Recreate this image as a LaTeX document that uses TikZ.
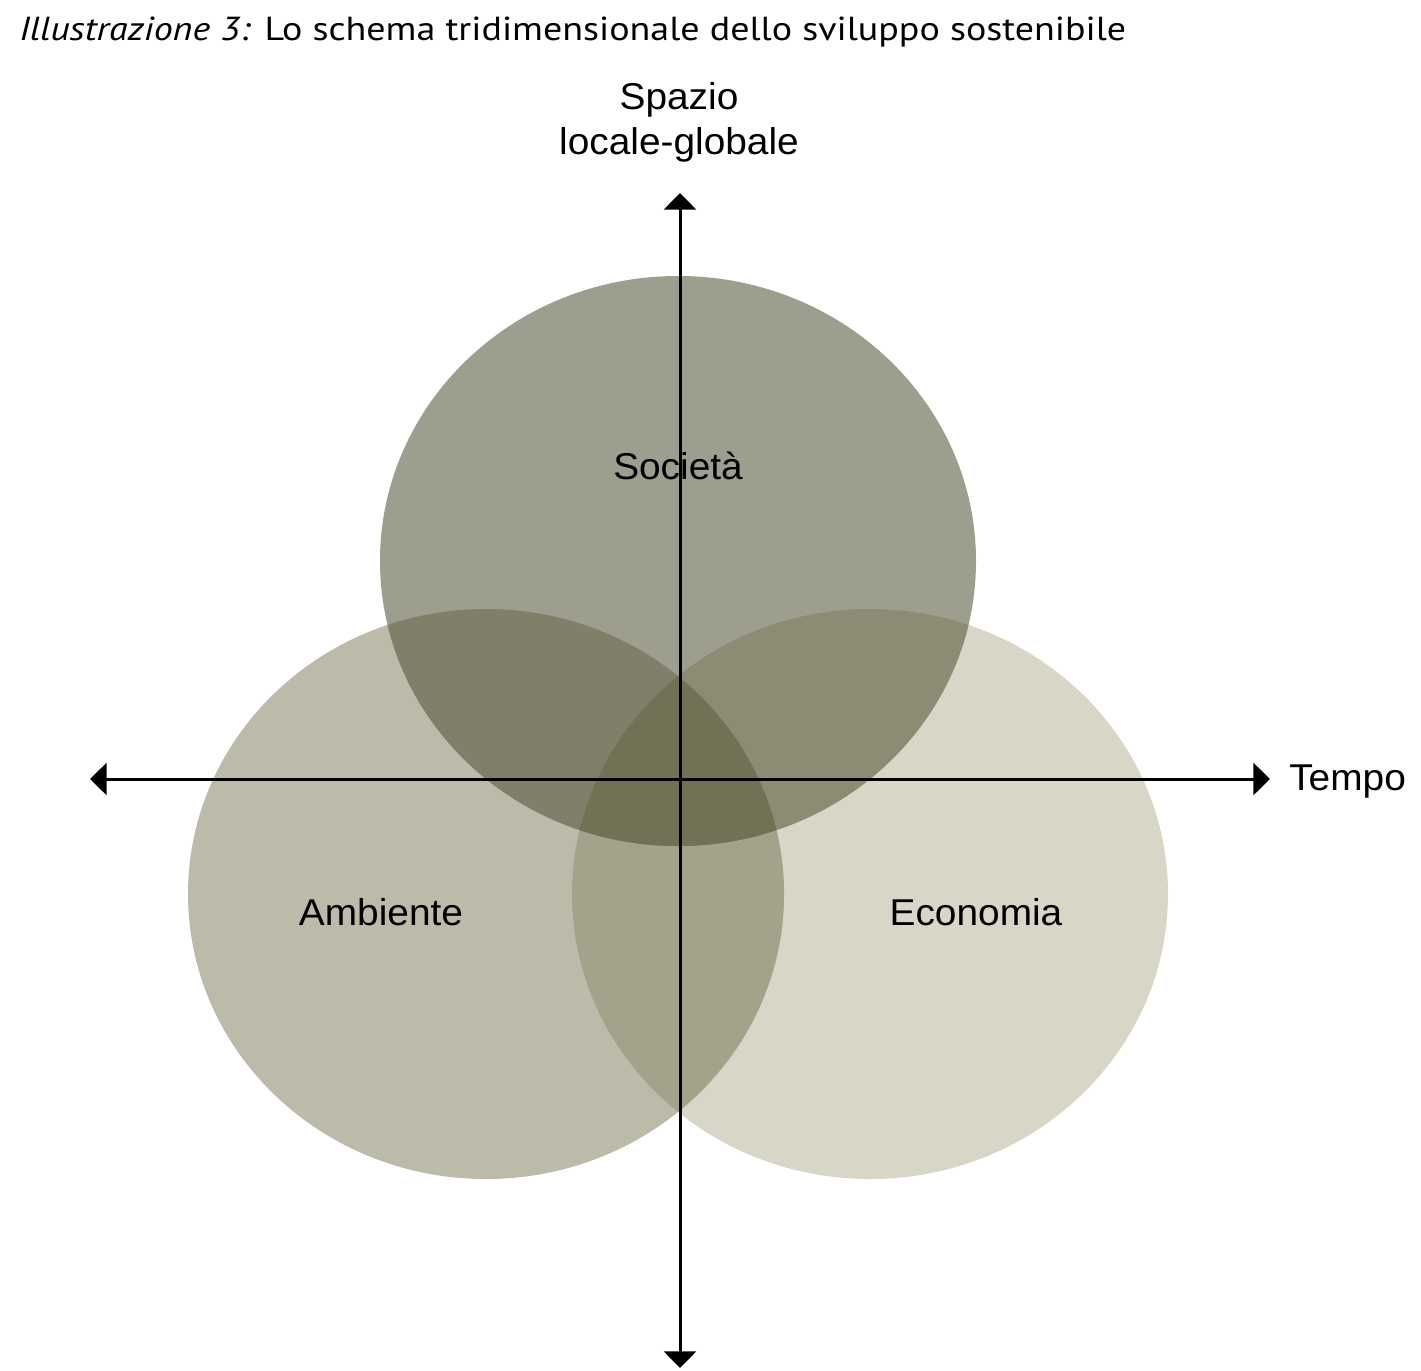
\documentclass[tikz,border=0pt]{standalone}
\usepackage{fontspec}
\setmainfont[FakeStretch=1.04]{Liberation Sans}
\newfontfamily\titlefont[FakeStretch=1.14]{PT Sans}
\usetikzlibrary{arrows.meta}
\definecolor{cTop}{HTML}{9D9E8D}
\definecolor{cLeft}{HTML}{BCBBAA}
\definecolor{cRight}{HTML}{D8D6C6}
\definecolor{cTL}{HTML}{807F69}
\definecolor{cTR}{HTML}{8C8B74}
\definecolor{cLR}{HTML}{A3A28B}
\definecolor{cAll}{HTML}{727155}
\tikzset{
  axis/.style={line width=2.25pt, -{Triangle[width=24pt,length=12.5pt]}},
  lbl/.style={font=\fontsize{28}{32}\selectfont, inner sep=0pt, text=black},
}
\begin{document}
\begin{tikzpicture}[x=0.75pt,y=-0.75pt]
\useasboundingbox (0,0) rectangle (1421,1371);
\fill[white] (0,0) rectangle (1421,1371);
\def\topE{(678,561) ellipse [x radius=298, y radius=285]}
\def\leftE{(486,894) ellipse [x radius=298, y radius=285]}
\def\rightE{(870,894) ellipse [x radius=298, y radius=285]}
\fill[cRight] \rightE;
\fill[cLeft] \leftE;
\fill[cTop] \topE;
\begin{scope}\clip \leftE; \fill[cLR] \rightE; \end{scope}
\begin{scope}\clip \topE; \fill[cTL] \leftE; \end{scope}
\begin{scope}\clip \topE; \fill[cTR] \rightE; \end{scope}
\begin{scope}\clip \topE; \clip \leftE; \fill[cAll] \rightE; \end{scope}

\coordinate (o) at (680,779);
\coordinate (up) at (680,193);
\coordinate (down) at (680,1368);
\coordinate (lt) at (90,779);
\coordinate (rt) at (1270,779);
\draw[axis] (o) -- (up);
\draw[axis] (o) -- (down);
\draw[axis] (o) -- (lt);
\draw[axis] (o) -- (rt);

\node[anchor=base west, inner sep=0pt, font=\titlefont\fontsize{25}{30}\selectfont] (title) at (19,40) {\textit{Illustrazione 3:} Lo schema tridimensionale dello sviluppo sostenibile};
\node[lbl, anchor=base] (spazio) at (679,109) {Spazio};
\node[lbl, anchor=base] (locale) at (679,154) {locale-globale};
\node[lbl, anchor=base west] (tempo) at (1289,790) {Tempo};
\node[lbl, anchor=base] (soc) at (678,479) {Società};
\node[lbl, anchor=base] (amb) at (381,925) {Ambiente};
\node[lbl, anchor=base] (eco) at (976,925) {Economia};
\end{tikzpicture}
\end{document}
